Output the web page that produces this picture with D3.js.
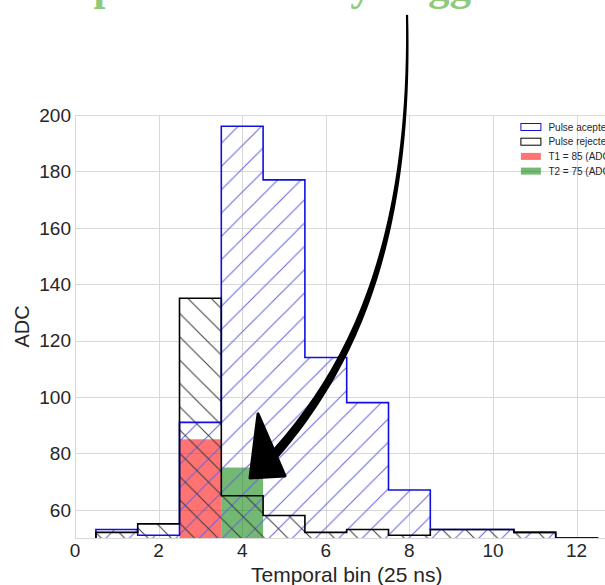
<!DOCTYPE html>
<html>
<head>
<meta charset="utf-8">
<script src="https://cdn.jsdelivr.net/npm/d3@7"></script>
<style>
  html, body { margin: 0; padding: 0; background: #fff; }
  svg { display: block; }
</style>
</head>
<body>
<script>
// ---------------- data ----------------
const bins = [1, 2, 3, 4, 5, 6, 7, 8, 9, 10, 11, 12];
const accepted = [53, 51, 91, 196, 177, 114, 98, 67, 53, 53, 52, 50];
const rejected = [52, 55, 135, 65, 58, 52, 53, 51, 53, 53, 52, 50];
const thresholdBins = [3, 4];
const thresholdValues = [85, 75];
const thresholdLabels = ["T1 = 85 (ADC)", "T2 = 75 (ADC)"];
const legendLabels = ["Pulse acepted", "Pulse rejected"];
const xTicks = [0, 2, 4, 6, 8, 10, 12];
const yTicks = [60, 80, 100, 120, 140, 160, 180, 200];
const xLabel = "Temporal bin (25 ns)";
const yLabel = "ADC";
const titleText = "Example of the delay trigger";
// annotation arrow (data coordinates): cubic bezier shaft + head triangle
const arrowShaft = [[7.943, 235.5], [8.062, 152.1], [6.531, 108.2], [4.617, 77.0]];
const arrowHead = [[4.378, 94.0], [4.187, 71.3], [5.024, 72.0]];

// ---------------- layout ----------------
const W = 605, H = 585;
const margin = { left: 75, top: 115 };
const plotW = 543.4, plotH = 423;

const svg = d3.select("body").append("svg").attr("width", W).attr("height", H);

const x = d3.scaleLinear().domain([0, 13]).range([margin.left, margin.left + plotW]);
const y = d3.scaleLinear().domain([50, 200]).range([margin.top + plotH, margin.top]);

const defs = svg.append("defs");
defs.append("clipPath").attr("id", "plotclip")
  .append("rect").attr("x", x(0)).attr("y", y(200)).attr("width", plotW).attr("height", plotH);

const s = 23.3;
const pBlue = defs.append("pattern").attr("id", "hatchBlue").attr("patternUnits", "userSpaceOnUse")
  .attr("width", s).attr("height", s).attr("x", 15);
pBlue.append("path")
  .attr("d", `M0,${s} L${s},0 M-3,3 L3,-3 M${s - 3},${s + 3} L${s + 3},${s - 3}`)
  .attr("stroke", "#6464dc").attr("stroke-width", 1).attr("fill", "none");
const pBlack = defs.append("pattern").attr("id", "hatchBlack").attr("patternUnits", "userSpaceOnUse")
  .attr("width", s).attr("height", s).attr("x", 6);
pBlack.append("path")
  .attr("d", `M0,0 L${s},${s} M-3,${s - 3} L3,${s + 3} M${s - 3},-3 L${s + 3},3`)
  .attr("stroke", "#3a3a3a").attr("stroke-width", 1).attr("fill", "none");

// ---------------- grid ----------------
const grid = svg.append("g");
yTicks.forEach(t => {
  const yy = Math.round(y(t)) + 0.5;
  grid.append("line").attr("x1", x(0)).attr("x2", x(13)).attr("y1", yy).attr("y2", yy)
    .attr("stroke", "#d9d9d9").attr("stroke-width", 1);
});
xTicks.forEach(t => {
  const xx = Math.round(x(t)) + 0.5;
  grid.append("line").attr("x1", xx).attr("x2", xx).attr("y1", y(200)).attr("y2", y(50))
    .attr("stroke", "#d9d9d9").attr("stroke-width", 1);
});
// spines
svg.append("rect").attr("x", Math.round(x(0)) + 0.5).attr("y", Math.round(y(200)) + 0.5)
  .attr("width", plotW).attr("height", Math.round(plotH))
  .attr("fill", "none").attr("stroke", "#d9d9d9").attr("stroke-width", 1);

// ---------------- marks ----------------
const plot = svg.append("g").attr("clip-path", "url(#plotclip)");

// threshold bars
const thrColors = ["rgba(255,0,0,0.55)", "rgba(0,128,0,0.55)"];
plot.selectAll("rect.thr").data(thresholdBins).enter().append("rect")
  .attr("class", "thr")
  .attr("x", d => x(d - 0.5))
  .attr("width", d => x(d + 0.5) - x(d - 0.5))
  .attr("y", (d, i) => y(thresholdValues[i]))
  .attr("height", (d, i) => y(0) - y(thresholdValues[i]))
  .attr("fill", (d, i) => thrColors[i]);

function stepPoints(vals) {
  const pts = [[bins[0] - 0.5, 0]];
  bins.forEach((b, i) => { pts.push([b - 0.5, vals[i]]); pts.push([b + 0.5, vals[i]]); });
  pts.push([bins[bins.length - 1] + 0.5, 0]);
  return pts;
}
const line = d3.line().x(d => x(d[0])).y(d => y(d[1]));

// hatched areas
plot.append("path").attr("d", line(stepPoints(accepted)) + "Z").attr("fill", "url(#hatchBlue)");
plot.append("path").attr("d", line(stepPoints(rejected)) + "Z").attr("fill", "url(#hatchBlack)");
// outlines
plot.append("path").attr("d", line(stepPoints(accepted))).attr("fill", "none")
  .attr("stroke", "#1010e0").attr("stroke-width", 1.6).attr("stroke-linejoin", "miter");
plot.append("path").attr("d", line(stepPoints(rejected))).attr("fill", "none")
  .attr("stroke", "#000").attr("stroke-width", 1.6).attr("stroke-linejoin", "miter");

// ---------------- axes labels ----------------
const tickFont = "Liberation Sans, Arial, sans-serif";
svg.append("g").selectAll("text").data(yTicks).enter().append("text")
  .attr("x", x(0) - 4).attr("y", d => y(d)).attr("dy", "0.36em")
  .attr("text-anchor", "end").attr("font-family", tickFont).attr("font-size", 19)
  .attr("fill", "#262626").text(d => d);
svg.append("g").selectAll("text").data(xTicks).enter().append("text")
  .attr("x", d => x(d)).attr("y", 557)
  .attr("text-anchor", "middle").attr("font-family", tickFont).attr("font-size", 19)
  .attr("fill", "#262626").text(d => d);
svg.append("text").attr("x", (x(0) + x(13)) / 2).attr("y", 582)
  .attr("text-anchor", "middle").attr("font-family", tickFont).attr("font-size", 21)
  .attr("fill", "#262626").text(xLabel);
svg.append("text").attr("transform", `translate(29,${(y(50) + y(200)) / 2}) rotate(-90)`)
  .attr("text-anchor", "middle").attr("font-family", tickFont).attr("font-size", 20)
  .attr("fill", "#262626").text(yLabel);

// ---------------- legend ----------------
const leg = svg.append("g").attr("transform", `translate(${x(13) - 98},127)`);
const legItems = [
  { label: legendLabels[0], fill: "none", stroke: "#1010e0" },
  { label: legendLabels[1], fill: "none", stroke: "#000" },
  { label: thresholdLabels[0], fill: thrColors[0], stroke: "none" },
  { label: thresholdLabels[1], fill: thrColors[1], stroke: "none" }
];
legItems.forEach((it, i) => {
  const g = leg.append("g").attr("transform", `translate(0,${i * 14.7})`);
  g.append("rect").attr("x", 0.5).attr("y", -3.5).attr("width", 20).attr("height", 7)
    .attr("fill", it.fill).attr("stroke", it.stroke).attr("stroke-width", 1);
  g.append("text").attr("x", 28).attr("y", 0).attr("dy", "0.35em")
    .attr("font-family", tickFont).attr("font-size", 10).attr("fill", "#262626").text(it.label);
});

// ---------------- title (mostly above the crop) ----------------
svg.append("text").attr("x", -14).attr("y", 0)
  .attr("font-family", "Liberation Serif, serif").attr("font-weight", "bold")
  .attr("font-size", 43).attr("fill", "#8fc97a").text(titleText);

// ---------------- annotation arrow ----------------
const P = arrowShaft.map(p => [x(p[0]), y(p[1])]);
function bez(t) {
  const u = 1 - t;
  return [
    u*u*u*P[0][0] + 3*u*u*t*P[1][0] + 3*u*t*t*P[2][0] + t*t*t*P[3][0],
    u*u*u*P[0][1] + 3*u*u*t*P[1][1] + 3*u*t*t*P[2][1] + t*t*t*P[3][1]
  ];
}
function bezD(t) {
  const u = 1 - t;
  return [
    3*u*u*(P[1][0]-P[0][0]) + 6*u*t*(P[2][0]-P[1][0]) + 3*t*t*(P[3][0]-P[2][0]),
    3*u*u*(P[1][1]-P[0][1]) + 6*u*t*(P[2][1]-P[1][1]) + 3*t*t*(P[3][1]-P[2][1])
  ];
}
const left = [], right = [];
const N = 60;
for (let i = 0; i <= N; i++) {
  const t = i / N;
  const p = bez(t), d = bezD(t);
  const len = Math.hypot(d[0], d[1]) || 1;
  const nx = -d[1] / len, ny = d[0] / len;
  const w = (2.2 + 7.5 * t) / 2;
  left.push([p[0] + nx * w, p[1] + ny * w]);
  right.push([p[0] - nx * w, p[1] - ny * w]);
}
const shaftPoly = left.concat(right.reverse());
svg.append("path").attr("d", "M" + shaftPoly.map(p => p.join(",")).join("L") + "Z")
  .attr("fill", "#000");
const headPts = arrowHead.map(p => [x(p[0]), y(p[1])]);
svg.append("path").attr("d", "M" + headPts.map(p => p.join(",")).join("L") + "Z")
  .attr("fill", "#000").attr("stroke", "#000").attr("stroke-width", 3).attr("stroke-linejoin", "round");
</script>
</body>
</html>
